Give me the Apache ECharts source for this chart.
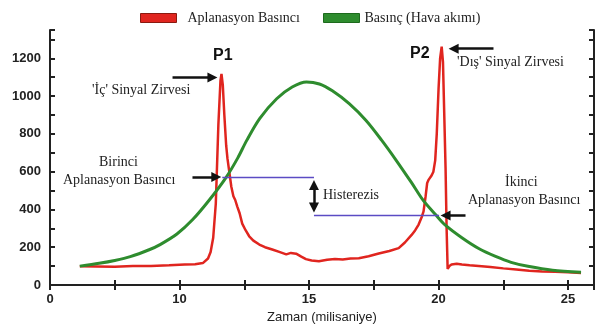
<!DOCTYPE html>
<html>
<head>
<meta charset="utf-8">
<script src="https://cdn.jsdelivr.net/npm/echarts@6/dist/echarts.min.js"></script>
<style>
  html, body { margin: 0; padding: 0; background: #fff; }
  #chart { width: 597px; height: 329px; }
</style>
</head>
<body>
<div id="chart"></div>
<script>
// Applanation pressure (red) and air-puff pressure (green) versus time (ms)
const timeRed = [6.15, 6.8, 7.5, 8.2, 8.9, 9.6, 10.2, 10.6, 10.9, 11.1, 11.2, 11.3, 11.4, 11.5, 11.58, 11.62,
  11.67, 11.73, 11.8, 11.85, 11.92, 12.0, 12.08, 12.15, 12.23, 12.32, 12.42, 12.55, 12.69, 12.85, 13.08,
  13.3, 13.58, 13.85, 14.12, 14.3, 14.5, 14.7, 14.88, 15.1, 15.38, 15.7, 16.0, 16.3, 16.6, 16.92, 17.3,
  17.69, 18.1, 18.46, 18.7, 18.96, 19.1, 19.23, 19.35, 19.42, 19.5, 19.56, 19.62, 19.73, 19.8, 19.87,
  19.93, 20.0, 20.06, 20.12, 20.17, 20.22, 20.27, 20.31, 20.35, 20.42, 20.5, 20.7, 20.9, 21.2, 21.55,
  22.0, 22.5, 23.0, 23.5, 24.0, 24.5, 25.0, 25.5];
const applanation = [99, 98, 96, 100, 101, 104, 108, 110, 116, 140, 175, 250, 430, 850, 1080, 1117,
  1060, 900, 740, 670, 600, 520, 470, 450, 415, 380, 325, 290, 258, 235, 214,
  200, 188, 175, 162, 170, 166, 150, 137, 130, 126, 134, 138, 135, 140, 142, 152,
  167, 180, 195, 225, 265, 290, 320, 360, 390, 470, 540, 558, 580, 600, 660,
  800, 1040, 1200, 1262, 1180, 900, 620, 300, 85, 100, 108, 112, 108, 104, 100,
  95, 88, 82, 76, 72, 70, 67, 64];

const timeGreen = [6.15, 6.9, 7.5, 8.1, 8.85, 9.25, 9.9, 10.5, 11.15, 11.8, 12.25, 12.6, 13.1, 13.75, 14.35,
  14.9, 15.4, 15.9, 16.55, 17.2, 17.8, 18.35, 18.95, 19.4, 19.9, 20.25, 20.9, 21.55, 22.2, 22.8, 23.45,
  24.4, 25.5];
const airPuff = [100, 115, 130, 150, 188, 214, 270, 345, 450, 570, 673, 767, 882, 986, 1048,
  1075, 1064, 1028, 960, 871, 767, 663, 543, 449, 370, 318, 250, 193, 151, 120, 99,
  78, 68];

// Hysteresis levels: first and second applanation pressure
const hysteresisX = [11.65, 15.19, 20.02];
const hysteresisY = [572, 368];

// Annotation arrows [x1, y1, x2, y2] in data units
const arrowP1 = [9.73, 1099, 11.27, 1099];
const arrowP2 = [22.12, 1251, 20.58, 1251];
const arrowFirst = [10.5, 572, 11.42, 572];
const arrowSecond = [21.04, 368, 20.27, 368];
const arrowHyst = [15.19, 530, 15.19, 410];

const xTicks = { min: 5, max: 26, interval: 2.5 };
const yTicks = { min: 0, max: 1350, interval: 100 };

const pairs = (xs, ys) => xs.map((x, i) => [x, ys[i]]);
const seg = a => [{ coord: [a[0], a[1]] }, { coord: [a[2], a[3]] }];

const axisColor = '#222';
const serif = 'Liberation Serif';
const sans = 'Liberation Sans';
const noteFont = '14px "Liberation Serif"';

const chart = echarts.init(document.getElementById('chart'), null, { renderer: 'canvas' });

const tickStyle = { show: true, inside: true, length: 5, lineStyle: { color: axisColor, width: 2 } };
const lineStyleAxis = { show: true, lineStyle: { color: axisColor, width: 2 } };
const legendCommon = {
  top: 6, itemWidth: 36, itemHeight: 9, icon: 'rect'
};

chart.setOption({
  animation: false,
  backgroundColor: '#fff',
  grid: { left: 50, right: 1, top: 30, bottom: 40 },
  legend: [
    Object.assign({}, legendCommon, {
      left: 135,
      textStyle: { fontFamily: serif, fontSize: 14, color: '#222', padding: [0, 0, 0, 6] },
      data: [{ name: 'Aplanasyon Basıncı', itemStyle: { borderColor: '#8a1a10', borderWidth: 1 } }]
    }),
    Object.assign({}, legendCommon, {
      left: 318,
      textStyle: { fontFamily: serif, fontSize: 14, color: '#222' },
      data: [{ name: 'Basınç (Hava akımı)', itemStyle: { borderColor: '#1d6a1d', borderWidth: 1 } }]
    })
  ],
  xAxis: [
    {
      type: 'value', position: 'bottom', ...xTicks,
      axisLine: lineStyleAxis, axisTick: tickStyle, splitLine: { show: false },
      axisLabel: {
        margin: 8, fontFamily: sans, fontWeight: 'bold', fontSize: 13, color: axisColor,
        formatter: v => v === 5 ? '0' : (v % 5 === 0 && v <= 25 ? String(v) : '')
      },
      name: 'Zaman (milisaniye)', nameLocation: 'middle', nameGap: 26,
      nameTextStyle: { fontFamily: sans, fontSize: 13, color: axisColor }
    },
    {
      type: 'value', position: 'top', ...xTicks,
      axisLine: lineStyleAxis, axisTick: tickStyle, splitLine: { show: false },
      axisLabel: { show: false }
    }
  ],
  yAxis: [
    {
      type: 'value', position: 'left', ...yTicks,
      axisLine: lineStyleAxis, axisTick: tickStyle, splitLine: { show: false },
      axisLabel: {
        margin: 9, fontFamily: sans, fontWeight: 'bold', fontSize: 13, color: axisColor,
        formatter: v => (v % 200 === 0 && v <= 1200) ? String(v) : ''
      }
    },
    {
      type: 'value', position: 'right', ...yTicks,
      axisLine: lineStyleAxis, axisTick: tickStyle, splitLine: { show: false },
      axisLabel: { show: false }
    }
  ],
  series: [
    {
      name: 'Aplanasyon Basıncı', type: 'line', data: pairs(timeRed, applanation),
      symbol: 'none', color: '#e0251f', lineStyle: { width: 2.5, color: '#e0251f' }, z: 3
    },
    {
      name: 'Basınç (Hava akımı)', type: 'line', data: pairs(timeGreen, airPuff),
      smooth: 0.3, symbol: 'none', color: '#2e8c2e', lineStyle: { width: 3, color: '#2e8c2e' }, z: 4
    },
    {
      type: 'line', data: [], silent: true,
      markLine: {
        silent: true, symbol: 'none', animation: false,
        label: { show: false },
        emphasis: { disabled: true },
        lineStyle: { color: '#5b4bc4', width: 1.3, type: 'solid', opacity: 1 },
        data: [
          [{ coord: [hysteresisX[0], hysteresisY[0]] }, { coord: [hysteresisX[1], hysteresisY[0]] }],
          [{ coord: [hysteresisX[1], hysteresisY[1]] }, { coord: [hysteresisX[2], hysteresisY[1]] }]
        ]
      },
      z: 2
    },
    {
      type: 'line', data: [], silent: true,
      markLine: {
        silent: true, symbol: ['none', 'triangle'], symbolSize: [10, 10], animation: false,
        label: { show: false },
        lineStyle: { color: '#111', width: 2.5, type: 'solid' },
        data: [seg(arrowP1), seg(arrowP2), seg(arrowFirst), seg(arrowSecond)]
      },
      z: 6
    },
    {
      type: 'line', data: [], silent: true,
      markLine: {
        silent: true, symbol: ['triangle', 'triangle'], symbolSize: [10, 10], animation: false,
        label: { show: false },
        lineStyle: { color: '#111', width: 2.5, type: 'solid' },
        data: [seg(arrowHyst)]
      },
      z: 6
    }
  ],
  graphic: [
    { type: 'text', left: 213, top: 48, style: { text: 'P1', font: 'bold 16px "Liberation Sans"', fill: '#111' } },
    { type: 'text', left: 410, top: 46, style: { text: 'P2', font: 'bold 16px "Liberation Sans"', fill: '#111' } },
    { type: 'text', left: 92, top: 83, style: { text: "'İç' Sinyal Zirvesi", font: noteFont, fill: '#222' } },
    { type: 'text', left: 457, top: 55, style: { text: "'Dış' Sinyal Zirvesi", font: noteFont, fill: '#222' } },
    { type: 'text', left: 99, top: 155, style: { text: 'Birinci', font: noteFont, fill: '#222' } },
    { type: 'text', left: 63, top: 173, style: { text: 'Aplanasyon Basıncı', font: noteFont, fill: '#222' } },
    { type: 'text', left: 323, top: 188, style: { text: 'Histerezis', font: noteFont, fill: '#222' } },
    { type: 'text', left: 505, top: 175, style: { text: 'İkinci', font: noteFont, fill: '#222' } },
    { type: 'text', left: 468, top: 193, style: { text: 'Aplanasyon Basıncı', font: noteFont, fill: '#222' } }
  ]
});
</script>
</body>
</html>
